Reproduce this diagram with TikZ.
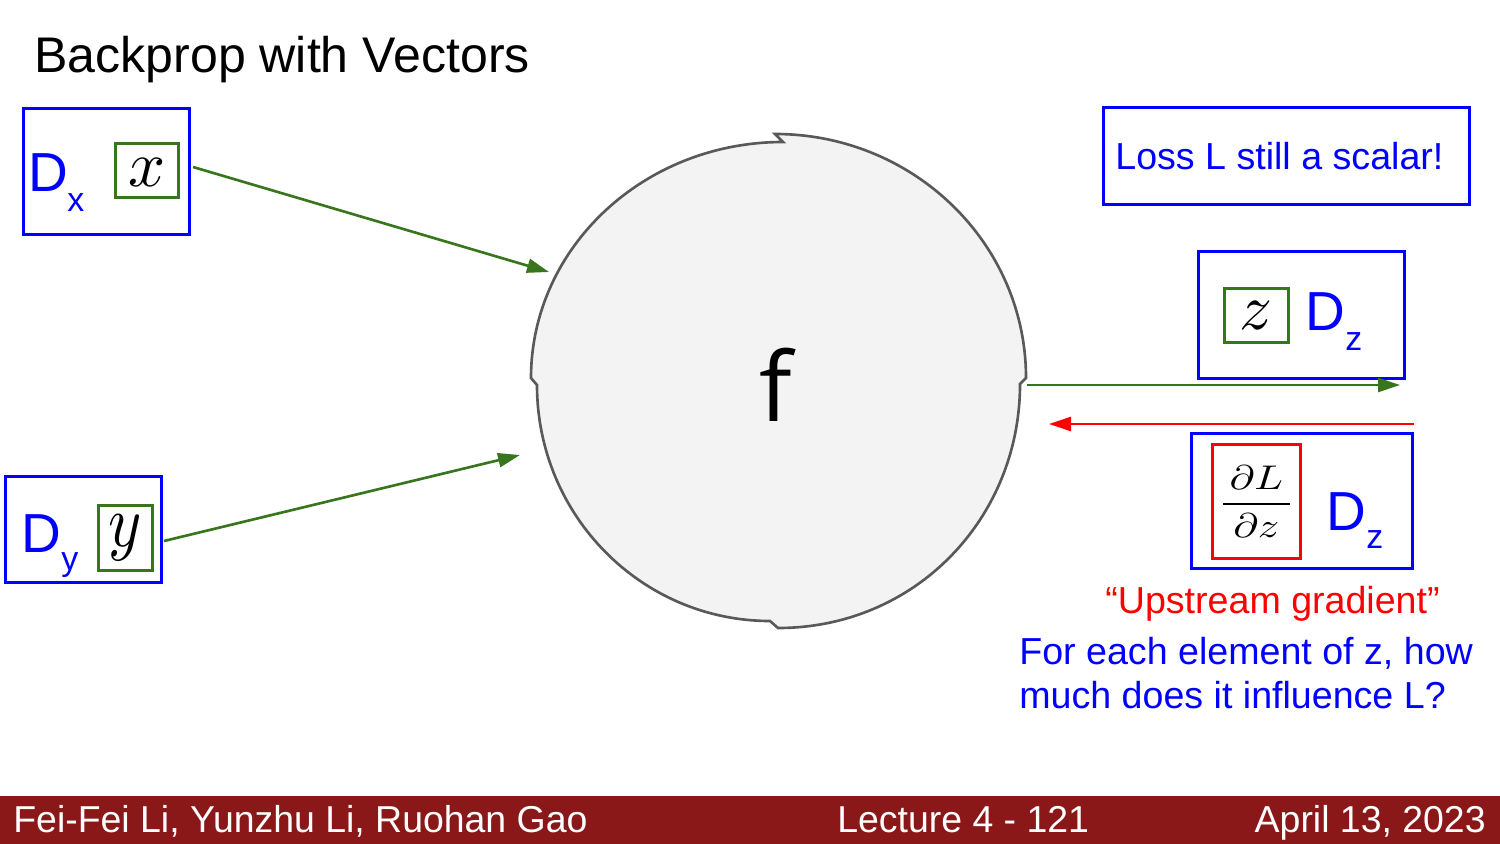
\documentclass[tikz,border=0pt]{standalone}
\usepackage{fontspec}
\setmainfont{Liberation Sans}
\newfontfamily\fopen{Open Sans}
\usetikzlibrary{arrows.meta}
\definecolor{gbox}{HTML}{38761D}
\definecolor{bl}{HTML}{0000FF}
\definecolor{rd}{HTML}{FF0000}
\definecolor{foot}{HTML}{8B1818}
\definecolor{cfill}{HTML}{F3F3F3}
\definecolor{cline}{HTML}{595959}
\begin{document}
\begin{tikzpicture}[x=0.02cm,y=-0.02cm,
  bbox/.style={draw=bl,line width=1.6pt,inner sep=0pt,anchor=north west},
  gbx/.style={draw=gbox,fill=white,line width=1.6pt,inner sep=0pt,anchor=north west},
  rbx/.style={draw=rd,fill=white,line width=1.6pt,inner sep=0pt,anchor=north west},
  dtxt/.style={text=bl,inner sep=0pt,anchor=base west,font=\fontsize{31.3}{36}\selectfont},
  stxt/.style={text=bl,inner sep=0pt,anchor=base west,font=\fontsize{19.3}{22}\selectfont},
  btxt/.style={text=bl,inner sep=0pt,anchor=base west,font=\fontsize{21.4}{26}\selectfont},
  mth/.style={inner sep=0pt,font=\fontsize{10}{12}\selectfont},
  garr/.style={draw=gbox,line width=1.5pt,-{Triangle[length=0.44cm,width=0.28cm]}},
  rarr/.style={draw=rd,line width=1.5pt,-{Triangle[length=0.44cm,width=0.28cm]}},
  foottxt/.style={text=white,inner sep=0pt,font=\fontsize{21.3}{24}\selectfont}]
\useasboundingbox (0,0) rectangle (1500,844);
\fill[white] (0,0) rectangle (1500,844);

% title
\node[inner sep=0pt,anchor=base west,font=\fontsize{28.5}{32}\selectfont] (title) at (34,73) {Backprop with Vectors};

% circle f
\filldraw[fill=cfill,draw=cline,line width=1.5pt,line join=miter]
  (531,378) .. controls (531,247.7) and (643.8,142) .. (783,142)
  -- (775,134)
  .. controls (913.6,134) and (1026,243.2) .. (1026,378)
  -- (1020,384)
  .. controls (1020,518.2) and (915.7,628) .. (778,628)
  -- (770,621)
  .. controls (641.3,621) and (537,515.3) .. (537,385)
  -- cycle;
\node[inner sep=0pt,anchor=base,font=\fopen\fontsize{54.6}{60}\selectfont] (f) at (776,421) {f};

% D_x box
\node[bbox,minimum width=3.32cm,minimum height=2.52cm] (dx) at (22,107) {};
\node[dtxt] (dxD) at (28,192) {D};
\node[stxt] (dxs) at (67,212) {x};
\node[gbx,minimum width=1.26cm,minimum height=1.08cm] (xb) at (114,142) {};
\node[mth] (xm) at ([yshift=-1pt]xb.center) {\scalebox{3.7}{$x$}};

% D_y box
\node[bbox,minimum width=3.12cm,minimum height=2.12cm] (dy) at (4,475) {};
\node[dtxt] (dyD) at (21,552) {D};
\node[stxt] (dys) at (61,570) {y};
\node[gbx,minimum width=1.08cm,minimum height=1.30cm] (yb) at (97,504) {};
\node[mth] (ym) at (yb.center) {\scalebox{3.6}[4.2]{$y$}};

% Loss box
\node[bbox,minimum width=7.32cm,minimum height=1.94cm] (loss) at (1102,106) {};
\node[btxt] (losst) at (1115,170) {Loss L still a scalar!};

% D_z top box
\node[bbox,minimum width=4.12cm,minimum height=2.54cm] (dz1) at (1197,250) {};
\node[gbx,minimum width=1.28cm,minimum height=1.08cm] (zb) at (1223,287) {};
\node[mth] (zm) at (zb.center) {\scalebox{3.7}{$z$}};
\node[dtxt] (dz1D) at (1305,331) {D};
\node[stxt] (dz1s) at (1345,350) {z};

% D_z bottom box
\node[bbox,minimum width=4.42cm,minimum height=2.70cm] (dz2) at (1190,432) {};
\node[rbx,minimum width=1.76cm,minimum height=2.28cm] (gb) at (1211,443) {};
\node[mth] (frac) at (gb.center) {\scalebox{2.4}[1.95]{$\displaystyle{\kern1.6pt\partial L\kern1.6pt \above 0.8pt \kern1.6pt\partial z\kern1.6pt}$}};
\node[dtxt] (dz2D) at (1326,530) {D};
\node[stxt] (dz2s) at (1366,548) {z};

% texts
\node[inner sep=0pt,anchor=base west,text=rd,font=\fontsize{21.4}{26}\selectfont] (up) at (1105,613) {“Upstream gradient”};
\node[btxt] (l1) at (1019,664) {For each element of z, how};
\node[btxt] (l2) at (1019,708) {much does it influence L?};

% arrows
\coordinate (xa) at (193,167);
\coordinate (xe) at (549,272);
\coordinate (ya) at (164,541);
\coordinate (ye) at (520,455);
\coordinate (za) at (1027,385);
\coordinate (ze) at (1400,385);
\coordinate (ra) at (1414,424);
\coordinate (re) at (1049,424);
\draw[garr] (xa) -- (xe);
\draw[garr] (ya) -- (ye);
\draw[garr] (za) -- (ze);
\draw[rarr] (ra) -- (re);

% footer
\fill[foot] (0,796) rectangle (1500,844);
\node[foottxt,anchor=base west] (fa) at (13,832) {Fei-Fei Li, Yunzhu Li, Ruohan Gao};
\node[foottxt,anchor=base west] (fb) at (837,832) {Lecture 4 - 121};
\node[foottxt,anchor=base east] (fc) at (1486,832) {April 13, 2023};
\end{tikzpicture}
\end{document}
